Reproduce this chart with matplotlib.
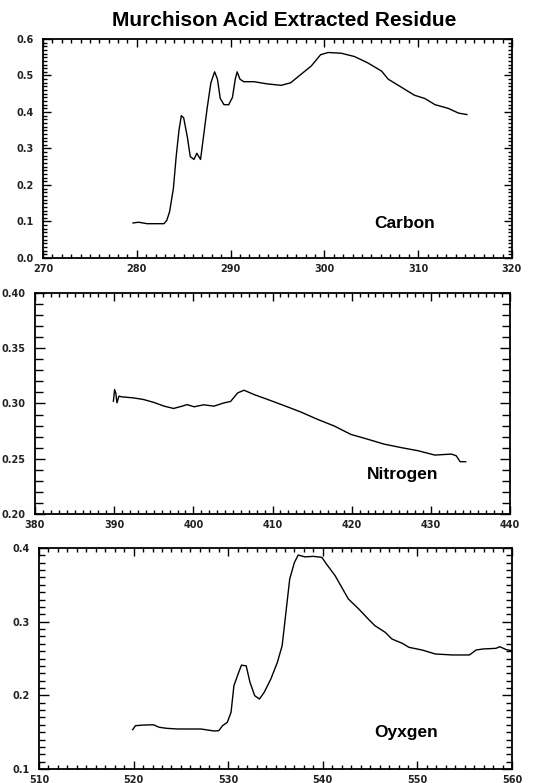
import numpy as np
import matplotlib.pyplot as plt
from matplotlib.ticker import MultipleLocator, FormatStrFormatter

plt.rcParams['font.family'] = ['Liberation Sans', 'DejaVu Sans']
plt.rcParams['font.weight'] = 'bold'

# Carbon K-edge
carbon_x = [279.6, 280.2, 281.1, 282.9, 283.2, 283.5, 283.9, 284.2, 284.5, 284.75,
            285.0, 285.4, 285.7, 286.1, 286.4, 286.8, 287.1, 287.5, 287.9, 288.3,
            288.6, 288.9, 289.3, 289.8, 290.2, 290.5, 290.7, 291.0, 291.4, 292.5,
            293.9, 295.4, 296.4, 297.5, 298.6, 299.6, 300.4, 301.8, 303.2, 304.6,
            306.1, 306.8, 308.2, 309.6, 310.7, 311.8, 313.2, 314.3, 315.2]
carbon_y = [0.096, 0.098, 0.094, 0.094, 0.103, 0.127, 0.19, 0.278, 0.35, 0.39,
            0.384, 0.33, 0.278, 0.27, 0.287, 0.27, 0.33, 0.41, 0.48, 0.51,
            0.49, 0.437, 0.42, 0.42, 0.44, 0.49, 0.51, 0.49, 0.483, 0.483,
            0.477, 0.473, 0.48, 0.503, 0.526, 0.557, 0.563, 0.561, 0.552, 0.535,
            0.512, 0.49, 0.468, 0.446, 0.437, 0.42, 0.41, 0.397, 0.393]

# Nitrogen K-edge
nitrogen_x = [389.9, 390.05, 390.2, 390.35, 390.6, 391.0, 392.5, 393.7, 395.0, 396.3,
              397.5, 398.6, 399.2, 400.1, 401.3, 402.6, 403.9, 404.7, 405.6, 406.4,
              407.7, 409.4, 411.5, 413.6, 415.7, 417.8, 419.9, 422.0, 424.1, 426.3,
              428.4, 430.5, 432.6, 433.2, 433.7, 434.4]
nitrogen_y = [0.302, 0.3126, 0.3096, 0.3006, 0.3066, 0.306, 0.305, 0.3036, 0.301, 0.2976,
              0.2955, 0.2976, 0.299, 0.297, 0.2988, 0.2976, 0.3006, 0.3018, 0.3096, 0.312,
              0.308, 0.3036, 0.298, 0.2922, 0.2856, 0.2796, 0.272, 0.2677, 0.2632, 0.260,
              0.2572, 0.2533, 0.2542, 0.2527, 0.2473, 0.2473]

# Oxygen K-edge
oxygen_x = [519.9, 520.2, 521.1, 522.1, 522.7, 523.5, 524.6, 525.7, 527.1, 528.5,
            529.0, 529.4, 529.9, 530.3, 530.6, 531.1, 531.4, 531.9, 532.3, 532.8,
            533.3, 533.8, 534.5, 535.2, 535.7, 536.1, 536.5, 537.0, 537.4, 538.1,
            539.0, 539.9, 540.4, 541.3, 542.0, 542.7, 543.8, 544.8, 545.5, 546.6,
            547.3, 548.4, 549.1, 550.5, 551.9, 553.7, 555.5, 556.2, 556.9, 558.3,
            558.7, 559.4, 560.0]
oxygen_y = [0.1534, 0.1588, 0.1597, 0.160, 0.1566, 0.1552, 0.1543, 0.1543, 0.1543, 0.1516,
            0.152, 0.1588, 0.1633, 0.177, 0.213, 0.231, 0.241, 0.240, 0.2176, 0.1995,
            0.195, 0.204, 0.222, 0.245, 0.2674, 0.3127, 0.358, 0.3805, 0.3905, 0.388,
            0.3887, 0.3873, 0.378, 0.3624, 0.3466, 0.3308, 0.3172, 0.3036, 0.2946, 0.2855,
            0.2765, 0.2706, 0.2652, 0.2615, 0.2561, 0.2548, 0.2548, 0.2615, 0.2629, 0.2638,
            0.266, 0.262, 0.2606]

panels = [
    # rect, x, y, xlim, ylim, ymajor, yfmt, label, label pos, ytick lengths
    ([0.0793, 0.6705, 0.8653, 0.2797], carbon_x, carbon_y, (270, 320), (0.0, 0.6),
     0.1, '%.1f', 'Carbon', (308.6, 0.094), (6, 3)),
    ([0.0646, 0.3436, 0.8764, 0.2822], nitrogen_x, nitrogen_y, (380, 440), (0.20, 0.40),
     0.05, '%.2f', 'Nitrogen', (426.4, 0.2353), (7, 6)),
    ([0.0720, 0.0179, 0.8727, 0.2822], oxygen_x, oxygen_y, (510, 560), (0.1, 0.4),
     0.1, '%.1f', 'Oyxgen', (548.8, 0.150), (7, 4)),
]

fig = plt.figure(figsize=(5.42, 7.83), dpi=100)

for rect, xs, ys, xlim, ylim, ymaj, yfmt, name, pos, ylen in panels:
    ax = fig.add_axes(rect)
    ax.plot(xs, ys, color='black', lw=1.0)
    ax.set_xlim(*xlim)
    ax.set_ylim(*ylim)
    ax.xaxis.set_major_locator(MultipleLocator(10))
    ax.xaxis.set_minor_locator(MultipleLocator(1))
    ax.yaxis.set_major_locator(MultipleLocator(ymaj))
    ax.yaxis.set_minor_locator(MultipleLocator(0.01))
    ax.yaxis.set_major_formatter(FormatStrFormatter(yfmt))
    ax.tick_params(which='both', direction='in', top=True, right=True,
                   labelsize=7, width=1, colors='black')
    ax.tick_params(axis='x', which='major', length=6, pad=4)
    ax.tick_params(axis='x', which='minor', length=3)
    ax.tick_params(axis='y', which='major', length=ylen[0], pad=7)
    ax.tick_params(axis='y', which='minor', length=ylen[1])
    for lbl in ax.get_xticklabels() + ax.get_yticklabels():
        lbl.set_fontweight('bold')
        lbl.set_family('DejaVu Sans')
        lbl.set_color('#222222')
    for sp in ax.spines.values():
        sp.set_linewidth(1.3)
    ax.text(pos[0], pos[1], name, ha='center', va='center',
            fontsize=12.5, fontweight='bold')

fig.text(0.524, 0.974, 'Murchison Acid Extracted Residue', ha='center', va='center',
         fontsize=15, fontweight='bold')

plt.savefig('out.png', dpi=100)
